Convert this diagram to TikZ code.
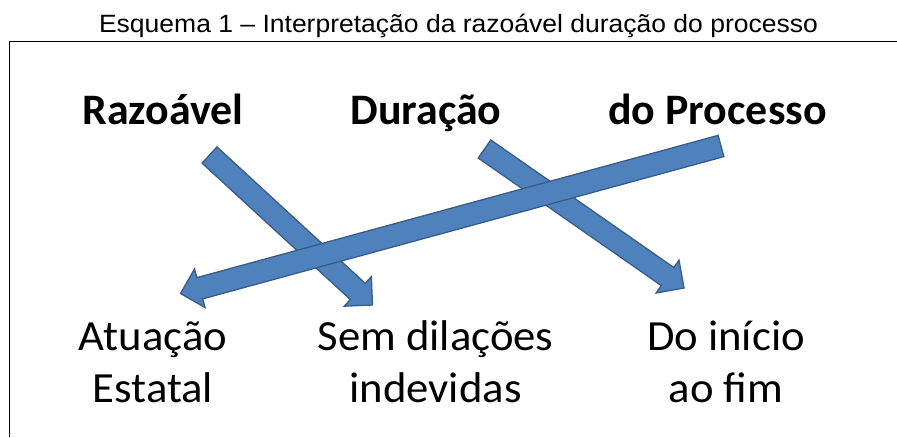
\documentclass[tikz,border=0pt]{standalone}
\usepackage{fontspec}
\usepackage{graphicx}
\setmainfont{Carlito}
\newfontfamily\headfont{Carlito}[FakeStretch=1.01]
\newfontfamily\lowfont{Carlito}[FakeStretch=1.04]
\newfontfamily\titlefont{Liberation Sans}[FakeStretch=1.06]
\usetikzlibrary{calc}
\definecolor{arrfill}{HTML}{4F81BD}
\definecolor{arrline}{HTML}{385D8A}
\tikzset{
  blockarr/.style={fill=arrfill, draw=arrline, line width=1.3pt, line join=miter},
  frameline/.style={line width=1.8pt, draw=black},
  titletext/.style={font=\titlefont\fontsize{25}{30}\selectfont, anchor=base, inner sep=0pt},
  headtext/.style={font=\headfont\bfseries\fontsize{43.5}{52}\selectfont, anchor=base, inner sep=0pt},
  lowtext/.style={font=\lowfont\fontsize{43}{51.7}\selectfont, anchor=base, inner sep=0pt, align=center},
}
% #1 tail, #2 tip
\newcommand{\blockarrow}[2]{%
  \coordinate (hb) at ($(#2)!20pt!(#1)$);
  \path[blockarr]
    ($(#1)!11pt!90:(#2)$) --
    ($(hb)!11pt!-90:(#1)$) --
    ($(hb)!20pt!-90:(#1)$) --
    (#2) --
    ($(hb)!20pt!90:(#1)$) --
    ($(hb)!11pt!90:(#1)$) --
    ($(#1)!11pt!-90:(#2)$) -- cycle;
}
\begin{document}
\begin{tikzpicture}[x=1pt,y=-1pt]
\useasboundingbox (0,0) rectangle (897,437);
\fill[white] (0,0) rectangle (897,437);

\node[titletext] (title) at (458.5,32.5) {Esquema 1 – Interpretação da razoável duração do processo};
\coordinate (fbl) at (9.5,437);
\coordinate (ftl) at (9.5,41.5);
\coordinate (ftr) at (897,41.5);
\draw[frameline] (fbl) -- (ftl) -- (ftr);

\node[headtext] (razoavel) at (163,124) {Razoável};
\node[headtext] (duracao) at (426,124) {Duração};
\node[headtext] (processo) at (717.5,124) {do Processo};

\node[lowtext] (atuacao) at (153,402) {Atuação\\Estatal};
\node[lowtext] (sem) at (435.5,402) {Sem dilações\\indevidas};
\node[lowtext] (inicio) at (726,402) {Do início\\ao fim};

\coordinate (a1s) at (209.5,155);
\coordinate (a1e) at (372.5,305);
\coordinate (a2s) at (484.5,149);
\coordinate (a2e) at (684,288);
\coordinate (a3s) at (721,146);
\coordinate (a3e) at (180.5,293.5);

\blockarrow{a1s}{a1e}
\blockarrow{a2s}{a2e}
\blockarrow{a3s}{a3e}
\end{tikzpicture}
\end{document}
